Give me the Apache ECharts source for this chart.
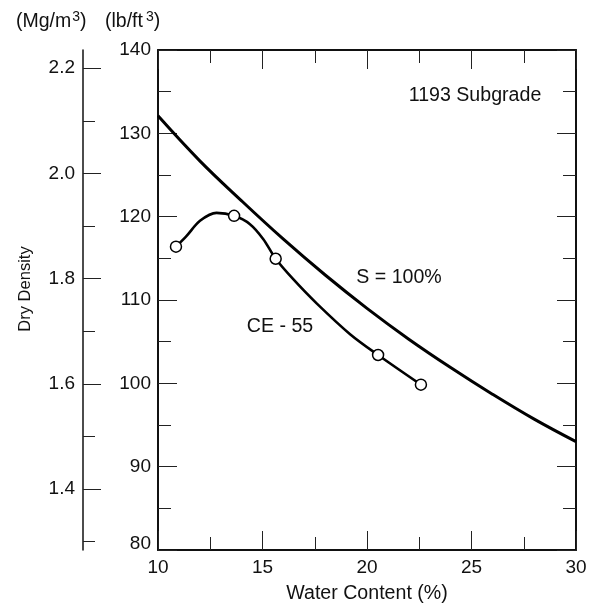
<!DOCTYPE html>
<html><head><meta charset="utf-8">
<script src="https://cdn.jsdelivr.net/npm/echarts@6/dist/echarts.min.js"></script>
<style>html,body{margin:0;padding:0;background:#fff}#c{width:593px;height:609px}</style>
</head><body><div id="c"></div>
<script>
// Saturation line (S = 100%)
const satWater = [10, 12, 14, 16, 18, 20, 22, 24, 26, 28, 30];
const satDensity = [132.1, 126.7, 121.9, 117.3, 113.0, 109.0, 105.3, 101.9, 98.7, 95.7, 93.0];
// CE-55 compaction test points
const ceWater = [10.86, 13.64, 15.63, 20.53, 22.58];
const ceDensity = [116.4, 120.1, 114.95, 103.4, 99.84];
// CE-55 drawn curve (through the points)
const ceCurveWater = [10.86, 11.37, 12.01, 12.8, 13.64, 14.4, 15.04, 15.63, 16.47, 17.59, 19.19, 20.53, 22.58];
const ceCurveDensity = [116.4, 117.7, 119.5, 120.45, 120.1, 119.1, 117.3, 114.95, 112.5, 109.6, 105.9, 103.4, 99.84];
// Axis ticks
const xMin = 10, xMax = 30, xStep = 5;
const lbMin = 80, lbMax = 140, lbStep = 10;
const mgMin = 1.284, mgMax = 2.2346;
const mgMajor = [1.4, 1.6, 1.8, 2.0, 2.2];
const mgMinor = [1.3, 1.5, 1.7, 1.9, 2.1];

const FONT = "'Liberation Sans', Arial, Helvetica, sans-serif";
const INK = '#111';
const TICKFS = 19;
const TXTFS = 19.6;

const chart = echarts.init(document.getElementById('c'), null, {renderer: 'canvas'});

function mainAxis(extra) {
  return Object.assign({
    type: 'value',
    axisLine: {show: true, onZero: false, lineStyle: {color: INK, width: 2}},
    axisTick: {show: true, inside: true, length: 19, lineStyle: {color: '#222', width: 1}},
    minorTick: {show: true, splitNumber: 2, length: 13, lineStyle: {color: '#222', width: 1}},
    splitLine: {show: false},
    minorSplitLine: {show: false},
    axisLabel: {show: false}
  }, extra);
}

const option = {
  animation: false,
  backgroundColor: '#fff',
  textStyle: {fontFamily: FONT},
  grid: {left: 158, top: 50, right: 17, bottom: 56, containLabel: false},
  xAxis: [
    mainAxis({
      position: 'bottom', min: xMin, max: xMax, interval: xStep,
      axisLabel: {show: true, color: INK, fontSize: TICKFS, fontFamily: FONT, margin: 8},
      name: 'Water Content (%)', nameLocation: 'middle', nameGap: 34,
      nameTextStyle: {color: INK, fontSize: TXTFS, fontFamily: FONT}
    }),
    mainAxis({position: 'top', min: xMin, max: xMax, interval: xStep})
  ],
  yAxis: [
    mainAxis({
      position: 'left', min: lbMin, max: lbMax, interval: lbStep,
      axisLabel: {show: true, color: INK, fontSize: TICKFS, fontFamily: FONT, margin: 7,
        formatter: v => (v === lbMin ? '{r|' + v + '}' : String(v)),
        rich: {r: {color: INK, fontSize: TICKFS, fontFamily: FONT, padding: [0, 0, 12, 0]}}}
    }),
    mainAxis({position: 'right', min: lbMin, max: lbMax, interval: lbStep}),
    {
      type: 'value', position: 'left', offset: 75, min: mgMin, max: mgMax,
      axisLine: {show: true, lineStyle: {color: INK, width: 1.5}},
      axisTick: {show: true, inside: true, length: 18, customValues: mgMajor, lineStyle: {color: '#222', width: 1}},
      axisLabel: {show: true, customValues: mgMajor, color: INK, fontSize: TICKFS, fontFamily: FONT, margin: 8,
        formatter: v => v.toFixed(1)},
      splitLine: {show: false}
    },
    {
      type: 'value', position: 'left', offset: 75, min: mgMin, max: mgMax,
      axisLine: {show: false},
      axisTick: {show: true, inside: true, length: 12, customValues: mgMinor, lineStyle: {color: '#222', width: 1}},
      axisLabel: {show: false},
      splitLine: {show: false}
    }
  ],
  series: [
    {
      type: 'line', xAxisIndex: 0, yAxisIndex: 0, smooth: 0.4, showSymbol: false, symbol: 'none',
      data: satWater.map((w, i) => [w, satDensity[i]]),
      lineStyle: {color: '#000', width: 3}
    },
    {
      type: 'line', xAxisIndex: 0, yAxisIndex: 0, smooth: 0.3, showSymbol: false, symbol: 'none',
      data: ceCurveWater.map((w, i) => [w, ceCurveDensity[i]]),
      lineStyle: {color: '#000', width: 2.6}
    },
    {
      type: 'scatter', xAxisIndex: 0, yAxisIndex: 0, symbol: 'circle', symbolSize: 11,
      data: ceWater.map((w, i) => [w, ceDensity[i]]),
      itemStyle: {color: '#fff', borderColor: '#000', borderWidth: 1.5, opacity: 1},
      z: 5
    }
  ],
  graphic: [
    {type: 'text', left: 16, top: 10, style: {
      text: '{a|(Mg/m}{s|3}{a|)}', fill: INK,
      rich: {a: {fontSize: 19.5, fontFamily: FONT, fill: INK, lineHeight: 24},
             s: {fontSize: 14, fontFamily: FONT, fill: INK, verticalAlign: 'top', lineHeight: 24, padding: [0, 0, 0, 1]}}
    }},
    {type: 'text', left: 105, top: 10, style: {
      text: '{a|(lb/ft}{s|3}{a|)}', fill: INK,
      rich: {a: {fontSize: 19.5, fontFamily: FONT, fill: INK, lineHeight: 24},
             s: {fontSize: 14, fontFamily: FONT, fill: INK, verticalAlign: 'top', lineHeight: 24, padding: [0, 0, 0, 3]}}
    }},
    {type: 'text', x: 25, y: 289, rotation: Math.PI / 2, style: {
      text: 'Dry Density', fill: INK, font: '16.5px ' + FONT, align: 'center', verticalAlign: 'middle'
    }},
    {type: 'text', x: 475, y: 96, style: {
      text: '1193 Subgrade', fill: INK, font: TXTFS + 'px ' + FONT, align: 'center', verticalAlign: 'middle'
    }},
    {type: 'text', x: 399, y: 278, style: {
      text: 'S = 100%', fill: INK, font: TXTFS + 'px ' + FONT, align: 'center', verticalAlign: 'middle'
    }},
    {type: 'text', x: 280, y: 327, style: {
      text: 'CE - 55', fill: INK, font: TXTFS + 'px ' + FONT, align: 'center', verticalAlign: 'middle'
    }}
  ]
};
chart.setOption(option);
</script>
</body></html>
